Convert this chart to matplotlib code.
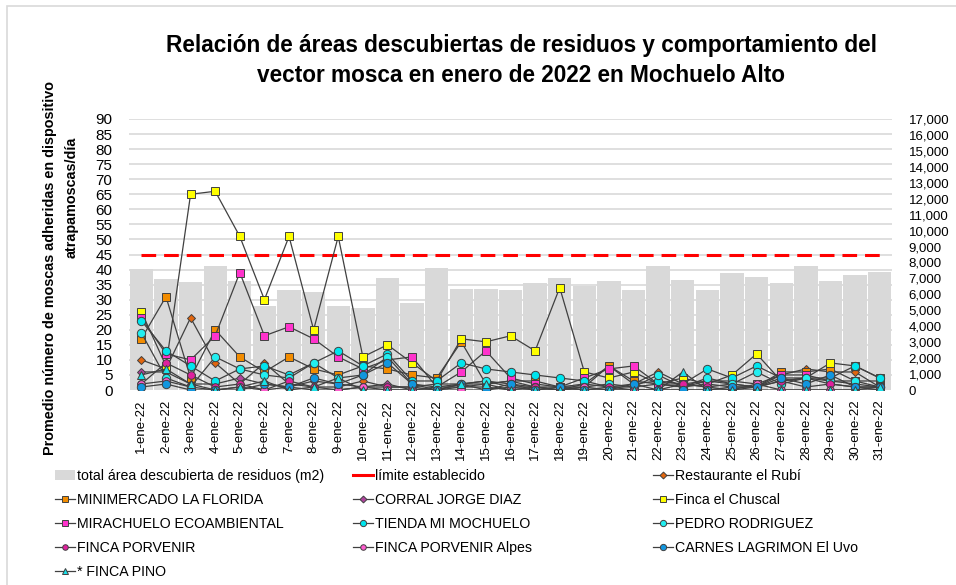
import numpy as np
import matplotlib
matplotlib.use("Agg")
import matplotlib.pyplot as plt
from matplotlib.patches import Rectangle, Patch
from matplotlib.lines import Line2D

plt.rcParams['font.family'] = ['Liberation Sans', 'DejaVu Sans']

days = ["%d-ene-22" % d for d in range(1, 32)]

# total area descubierta de residuos (m2) - eje derecho
area = [7600, 6950, 6750, 7750, 6850, 5300, 6250, 6150, 5300, 5150, 7050, 5450, 7650, 6350, 6350, 6250,
        6700, 7050, 6550, 6850, 6250, 7750, 6900, 6250, 7350, 7100, 6700, 7800, 6850, 7200, 7400]
limite = 45

rubi = [10, 7, 24, 9, 2, 9, 2, 1, 1, 3, 1, 1, 2, 2, 3, 1, 1, 0, 1, 8, 2, 6, 2, 1, 2, 1, 5, 7, 6, 6, 1]
minimercado = [17, 31, 4, 20, 11, 6, 11, 7, 5, 8, 7, 5, 4, 16, 2, 3, 3, 1, 2, 8, 3, 2, 1, 2, 1, 1, 6, 6, 7, 3, 3]
corral = [6, 6, 2, 2, 4, 2, 1, 3, 2, 1, 2, 0, 1, 1, 2, 3, 1, 0, 2, 1, 1, 2, 1, 3, 2, 1, 3, 4, 2, 1, 1]
chuscal = [26, 8, 65, 66, 51, 30, 51, 20, 51, 11, 15, 9, 3, 17, 16, 18, 13, 34, 6, 4, 6, 2, 4, 2, 5, 12, 3, 4, 9, 8, 4]
mirachuelo = [24, 12, 10, 18, 39, 18, 21, 17, 11, 7, 10, 11, 1, 6, 13, 4, 2, 1, 4, 7, 8, 2, 2, 3, 3, 2, 5, 5, 3, 2, 1]
tienda = [23, 13, 8, 3, 7, 8, 5, 9, 13, 8, 12, 3, 3, 9, 7, 6, 5, 4, 3, 1, 2, 3, 2, 7, 4, 8, 4, 4, 4, 8, 4]
pedro = [19, 4, 1, 11, 7, 5, 4, 9, 4, 5, 11, 2, 1, 2, 3, 2, 1, 1, 1, 2, 1, 5, 1, 4, 2, 6, 2, 4, 3, 3, 1]
porvenir = [2, 9, 5, 1, 2, 0, 3, 1, 0, 1, 1, 1, 0, 1, 1, 0, 1, 0, 0, 1, 0, 0, 2, 1, 0, 1, 3, 1, 2, 1, 0]
alpes = [2, 3, 1, 0, 1, 0, 1, 0, 0, 1, 0, 0, 0, 0, 0, 1, 0, 0, 1, 0, 0, 0, 0, 0, 0, 2, 0, 0, 0, 0, 0]
carnes = [1, 2, 0, 0, 0, 2, 1, 4, 2, 5, 9, 2, 0, 2, 0, 2, 0, 1, 0, 0, 2, 0, 0, 0, 1, 1, 4, 2, 5, 1, 1]
pino = [5, 7, 2, 0, 1, 3, 0, 1, 4, 0, 0, 0, 0, 2, 2, 0, 0, 0, 0, 0, 0, 0, 6, 0, 0, 0, 0, 0, 0, 0, 1]

# (label, data, marker, color, size)
series = [
    ("Restaurante el Rubí", rubi, "D", "#E2660E", 3.8),
    ("MINIMERCADO LA FLORIDA", minimercado, "s", "#F28C00", 6),
    ("CORRAL JORGE DIAZ", corral, "D", "#B0449E", 3.8),
    ("Finca el Chuscal", chuscal, "s", "#FFFF00", 6),
    ("MIRACHUELO ECOAMBIENTAL", mirachuelo, "s", "#FF33CC", 6),
    ("TIENDA MI MOCHUELO", tienda, "o", "#00E5EE", 6),
    ("PEDRO RODRIGUEZ", pedro, "o", "#22EEF0", 6),
    ("FINCA PORVENIR", porvenir, "o", "#E0209E", 5.5),
    ("FINCA PORVENIR Alpes", alpes, "o", "#FF5CCF", 5.5),
    ("CARNES LAGRIMON El Uvo", carnes, "o", "#1296DE", 6),
    ("* FINCA PINO", pino, "^", "#19E0E8", 5.5),
]

fig = plt.figure(figsize=(9.56, 5.85), dpi=100)
fig.patches.append(Rectangle((7 / 956, -0.1), 1.2, 1.1 - 6 / 585, transform=fig.transFigure,
                             fill=False, edgecolor="#D9D9D9", linewidth=1.2))

x = np.arange(len(days))
ax = fig.add_axes([0.135, 0.3333, 0.798, 0.4633])
ax_bar = ax.twinx()
ax.set_zorder(ax_bar.get_zorder() + 1)
ax.patch.set_visible(False)

# bars (right axis)
ax_bar.set_xlim(-0.5, 30.5)
ax_bar.set_ylim(0, 17000)
for v in range(5, 95, 5):
    ax_bar.axhline(v * 17000 / 90, color="#D9D9D9", linewidth=1.2, zorder=0)
ax_bar.bar(x, area, width=0.95, color="#D9D9D9", zorder=1)
ax_bar.set_yticks(range(0, 17001, 1000))
ax_bar.set_yticklabels(["{:,}".format(v) for v in range(0, 17001, 1000)], fontsize=9.5)
ax_bar.tick_params(axis="y", length=0, pad=12)
for s in ax_bar.spines.values():
    s.set_visible(False)

# lines (left axis)
ax.set_xlim(-0.5, 30.5)
ax.set_ylim(0, 90)
ax.set_yticks(range(0, 91, 5))
ax.set_yticklabels([str(v) for v in range(0, 91, 5)], fontsize=11)
ax.tick_params(axis="y", length=0, pad=12)
ax.set_xticks(x)
ax.set_xticklabels(days, rotation=90, fontsize=9.5)
ax.tick_params(axis="x", length=0, pad=7)
for s in ax.spines.values():
    s.set_visible(False)

ax.plot(x, [limite] * len(x), color="#FF0000", linewidth=2.2, dashes=(4.8, 2.6), zorder=2)
for label, data, mk, col, ms in series:
    ax.plot(x, data, color="#404040", linewidth=0.9, marker=mk, markersize=ms,
            markerfacecolor=col, markeredgecolor="#404040", markeredgewidth=0.7, zorder=3)

fig.text(0.545, 0.923, "Relación de áreas descubiertas de residuos y comportamiento del",
         ha="center", va="center", fontsize=16.3, fontweight="bold")
fig.text(0.545, 0.871, "vector mosca en enero de 2022 en Mochuelo Alto",
         ha="center", va="center", fontsize=16.3, fontweight="bold")
fig.text(50 / 956, 1 - 268 / 585, "Promedio número de moscas adheridas en dispositivo",
         rotation=90, ha="center", va="center", fontsize=10.4, fontweight="bold")
fig.text(72 / 956, 1 - 197 / 585, "atrapamoscas/día",
         rotation=90, ha="center", va="center", fontsize=10.4, fontweight="bold")

# legend built as three columns
h_area = Patch(facecolor="#D9D9D9", edgecolor="none")
h_lim = Line2D([], [], color="#FF0000", linewidth=2.2)
hs = {}
for label, data, mk, col, ms in series:
    hs[label] = Line2D([], [], color="#404040", linewidth=0.9, marker=mk, markersize=max(ms - 1.5, 3.5),
                       markerfacecolor=col, markeredgecolor="#404040", markeredgewidth=0.7)

cols = [
    ([h_area, hs["MINIMERCADO LA FLORIDA"], hs["MIRACHUELO ECOAMBIENTAL"], hs["FINCA PORVENIR"], hs["* FINCA PINO"]],
     ["total área descubierta de residuos (m2)", "MINIMERCADO LA FLORIDA", "MIRACHUELO ECOAMBIENTAL",
      "FINCA PORVENIR", "* FINCA PINO"], 55),
    ([h_lim, hs["CORRAL JORGE DIAZ"], hs["TIENDA MI MOCHUELO"], hs["FINCA PORVENIR Alpes"]],
     ["límite establecido", "CORRAL JORGE DIAZ", "TIENDA MI MOCHUELO", "FINCA PORVENIR Alpes"], 353),
    ([hs["Restaurante el Rubí"], hs["Finca el Chuscal"], hs["PEDRO RODRIGUEZ"], hs["CARNES LAGRIMON El Uvo"]],
     ["Restaurante el Rubí", "Finca el Chuscal", "PEDRO RODRIGUEZ", "CARNES LAGRIMON El Uvo"], 653),
]
for handles, labels, xpx in cols:
    fig.legend(handles, labels, loc="upper left", bbox_to_anchor=(xpx / 956, 1 - 469 / 585),
               frameon=False, fontsize=10.2, handlelength=1.4, handletextpad=0.15,
               labelspacing=0.70, borderaxespad=0, borderpad=0)

fig.savefig("out.png", dpi=100)
